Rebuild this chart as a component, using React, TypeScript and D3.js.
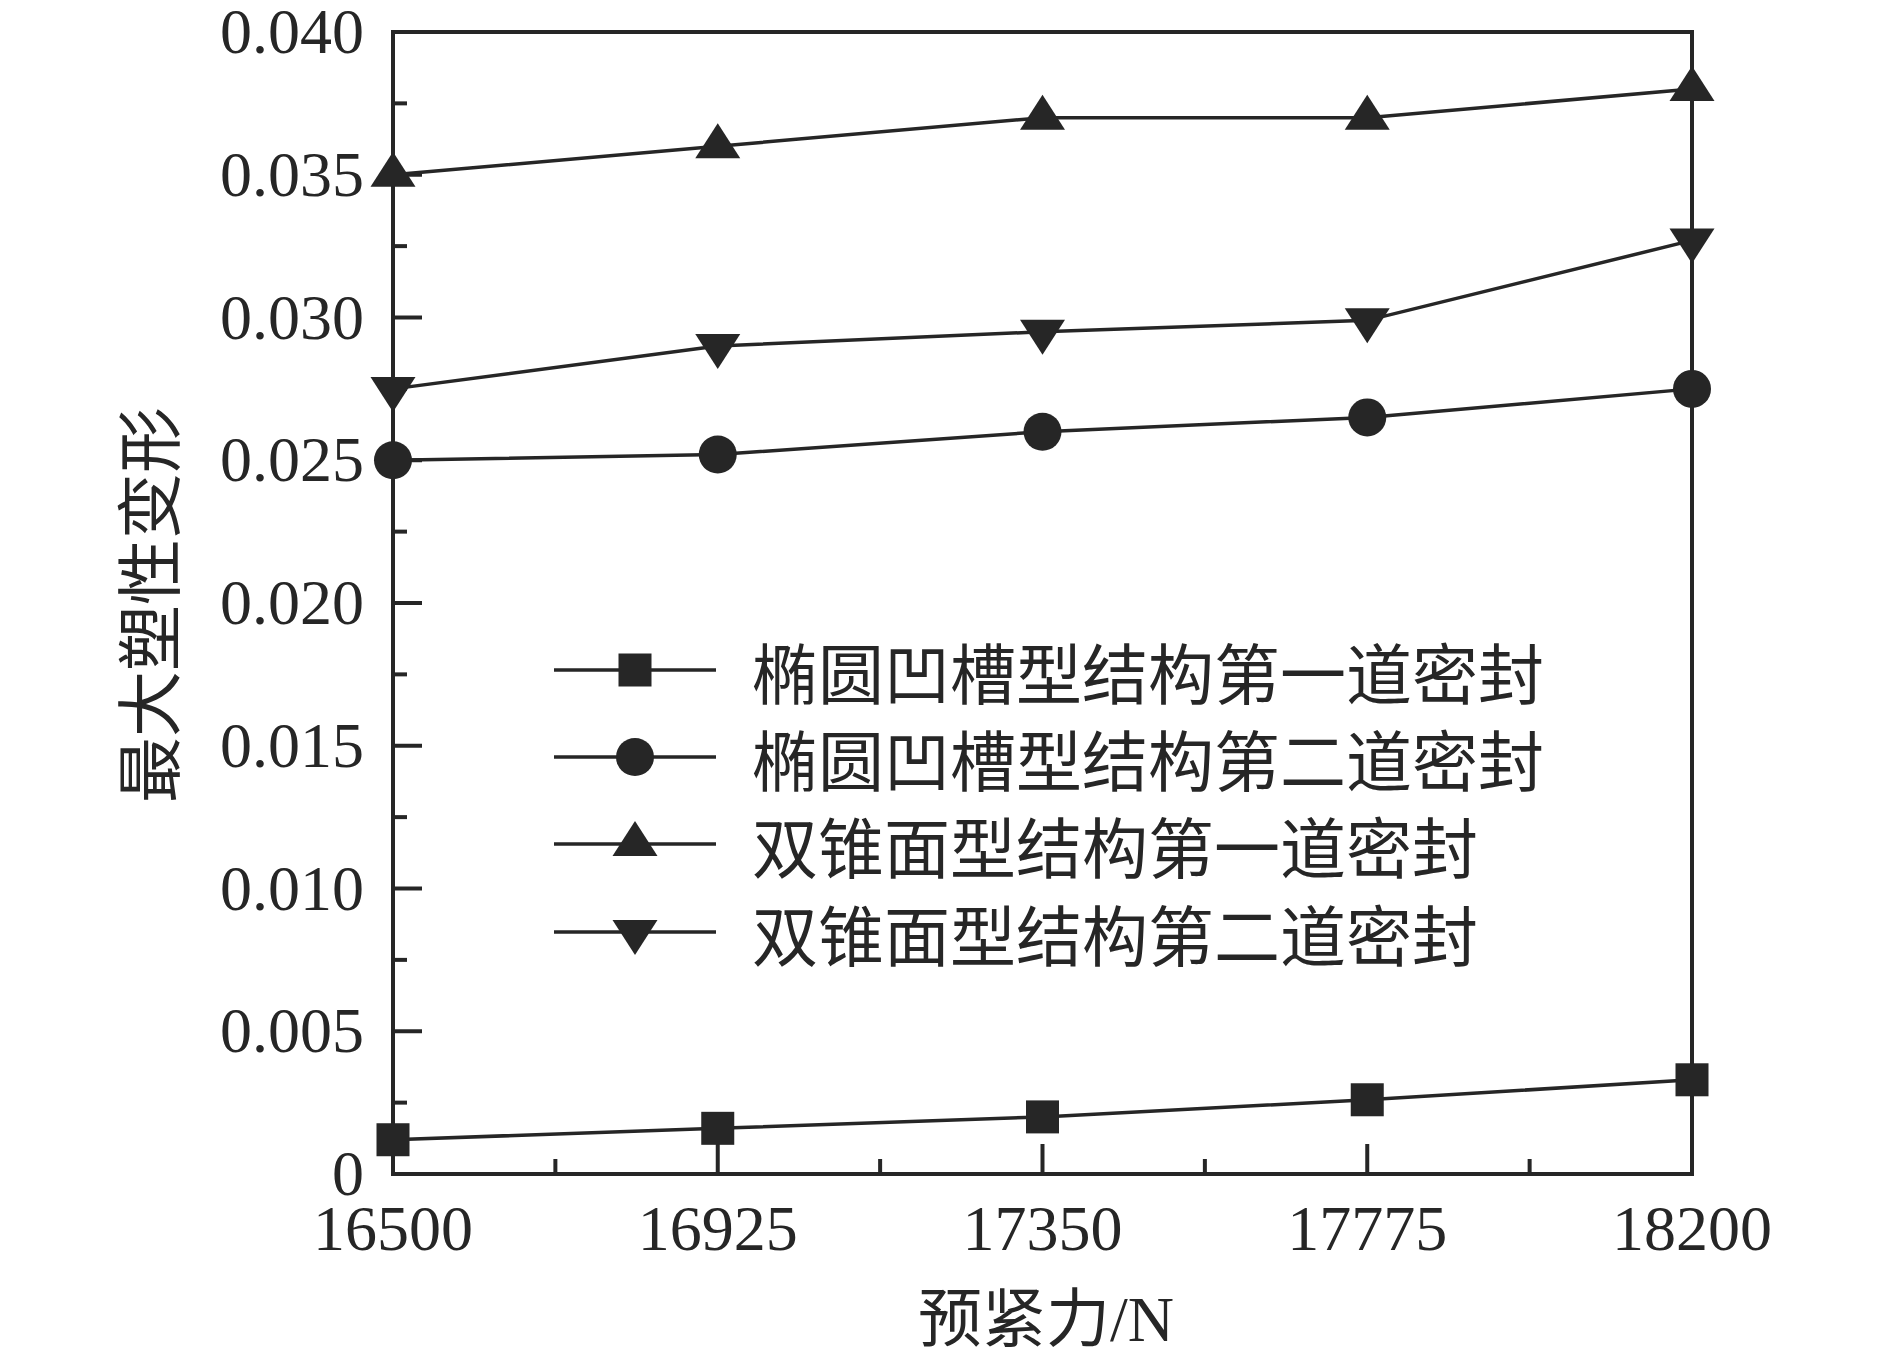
import * as d3 from "d3";

const preload = [16500, 16925, 17350, 17775, 18200];
const yTicks = [0, 0.005, 0.01, 0.015, 0.02, 0.025, 0.03, 0.035, 0.04];

const ellipseSeal1 = [0.0012, 0.0016, 0.0020, 0.0026, 0.0033];
const ellipseSeal2 = [0.0250, 0.0252, 0.0260, 0.0265, 0.0275];
const coneSeal1 = [0.0350, 0.0360, 0.0370, 0.0370, 0.0380];
const coneSeal2 = [0.0275, 0.0290, 0.0295, 0.0299, 0.0327];

const seriesNames = [
  "椭圆凹槽型结构第一道密封",
  "椭圆凹槽型结构第二道密封",
  "双锥面型结构第一道密封",
  "双锥面型结构第二道密封",
];

type Shape = "square" | "circle" | "up" | "down";

const series: { name: string; values: number[]; shape: Shape }[] = [
  { name: seriesNames[0], values: ellipseSeal1, shape: "square" },
  { name: seriesNames[1], values: ellipseSeal2, shape: "circle" },
  { name: seriesNames[2], values: coneSeal1, shape: "up" },
  { name: seriesNames[3], values: coneSeal2, shape: "down" },
];

const W = 1890;
const H = 1356;
const margin = { left: 393, right: W - 1692, top: 32, bottom: H - 1174 };
const ink = "#262626";
const serif = "'Times New Roman', 'Liberation Serif', 'Noto Sans CJK SC', serif";
const cjk = "'Noto Sans CJK SC', sans-serif";

const x = d3.scaleLinear().domain([16500, 18200]).range([margin.left, W - margin.right]);
const y = d3.scaleLinear().domain([0, 0.04]).range([H - margin.bottom, margin.top]);

function Marker({ shape, cx, cy }: { shape: Shape; cx: number; cy: number }) {
  if (shape === "square") {
    return <rect x={cx - 16.5} y={cy - 16.5} width={33} height={33} fill={ink} />;
  }
  if (shape === "circle") {
    return <circle cx={cx} cy={cy} r={19} fill={ink} />;
  }
  const d =
    shape === "up"
      ? "M0,-23L22.5,12L-22.5,12Z"
      : "M0,23L22.5,-12L-22.5,-12Z";
  return <path d={d} transform={`translate(${cx},${cy})`} fill={ink} />;
}

export default function App() {
  const line = d3
    .line<number>()
    .x((_, i) => x(preload[i]))
    .y((v) => y(v));

  const xMinor = d3.pairs(preload).map(([a, b]) => (a + b) / 2);
  const yMinor = d3.pairs(yTicks).map(([a, b]) => (a + b) / 2);

  const [x0, x1] = x.range();
  const [y0, y1] = y.range();

  const legendRows = [670, 757, 844, 932];

  return (
    <svg
      width={W}
      height={H}
      style={{ position: "absolute", left: 0, top: 0, background: "#fff" }}
    >
      {/* frame */}
      <rect x={x0} y={y1} width={x1 - x0} height={y0 - y1} fill="none" stroke={ink} strokeWidth={4} />

      {/* y ticks */}
      {yTicks.map((t) => (
        <g key={"y" + t}>
          <line x1={x0} x2={x0 + 29} y1={y(t)} y2={y(t)} stroke={ink} strokeWidth={4} />
          <text
            x={364}
            y={y(t) + 21}
            textAnchor="end"
            fontFamily={serif}
            fontSize={64}
            fill={ink}
          >
            {t === 0 ? "0" : t.toFixed(3)}
          </text>
        </g>
      ))}
      {yMinor.map((t) => (
        <line key={"ym" + t} x1={x0} x2={x0 + 14} y1={y(t)} y2={y(t)} stroke={ink} strokeWidth={4} />
      ))}

      {/* x ticks */}
      {preload.map((t) => (
        <g key={"x" + t}>
          <line x1={x(t)} x2={x(t)} y1={y0} y2={y0 - 30} stroke={ink} strokeWidth={4} />
          <text x={x(t)} y={1250} textAnchor="middle" fontFamily={serif} fontSize={64} fill={ink}>
            {t}
          </text>
        </g>
      ))}
      {xMinor.map((t) => (
        <line key={"xm" + t} x1={x(t)} x2={x(t)} y1={y0} y2={y0 - 15} stroke={ink} strokeWidth={4} />
      ))}

      {/* axis titles */}
      <text x={1046} y={1341} textAnchor="middle" fontFamily={serif} fontSize={64} fill={ink}>
        预紧力/N
      </text>
      <text
        transform="translate(174,605) rotate(-90)"
        textAnchor="middle"
        fontFamily={cjk}
        fontSize={66}
        fill={ink}
      >
        最大塑性变形
      </text>

      {/* series */}
      {series.map((s) => (
        <g key={s.name}>
          <path d={line(s.values) ?? ""} fill="none" stroke={ink} strokeWidth={3.5} />
          {s.values.map((v, i) => (
            <Marker key={i} shape={s.shape} cx={x(preload[i])} cy={y(v)} />
          ))}
        </g>
      ))}

      {/* legend */}
      {series.map((s, i) => (
        <g key={"lg" + s.name}>
          <line x1={554} x2={716} y1={legendRows[i]} y2={legendRows[i]} stroke={ink} strokeWidth={3.5} />
          <Marker shape={s.shape} cx={635} cy={legendRows[i]} />
          <text x={752} y={legendRows[i] + 29} fontFamily={cjk} fontSize={66} fill={ink}>
            {s.name}
          </text>
        </g>
      ))}
    </svg>
  );
}
